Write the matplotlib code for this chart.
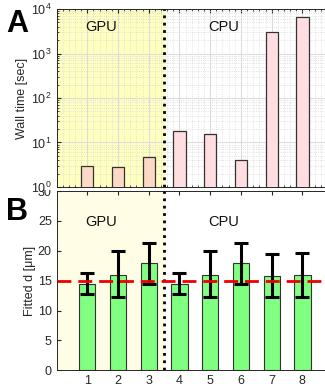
import numpy as np
import matplotlib.pyplot as plt
from matplotlib.ticker import MultipleLocator, LogLocator, NullFormatter
from matplotlib.transforms import Bbox, TransformedBbox

plt.rcParams['font.family'] = ['Liberation Sans', 'DejaVu Sans']

runs = [1, 2, 3, 4, 5, 6, 7, 8]
wall_time = [2.95, 2.75, 4.6, 18.4, 15.5, 4.1, 3100, 6700]
fitted_d = [14.4, 16.0, 17.9, 14.4, 16.0, 17.9, 15.85, 16.0]
err_hi = [16.3, 19.9, 21.3, 16.3, 19.9, 21.3, 19.55, 19.65]
err_lo = [12.8, 12.3, 14.4, 12.8, 12.3, 14.4, 12.3, 12.3]
true_d = 15

txt = '#262626'
fig = plt.figure(figsize=(3.25, 3.92), dpi=100)
axB = fig.add_axes([0.174, 0.0554, 0.851, 0.457])
axA = fig.add_axes([0.174, 0.523, 0.851, 0.454])

# panel A: wall time
axA.axvspan(0, 3.5, color='#ffffc0', zorder=0.5)
colsA = ['#fcd9c4'] * 3 + ['#ffdde0'] * 5
axA.bar(runs, wall_time, width=0.4, color=colsA, edgecolor='#333333', linewidth=0.9, zorder=3)
axA.set_yscale('log')
axA.set_ylim(1, 1e4)
axA.set_xlim(0, 9)
axA.yaxis.set_minor_locator(LogLocator(subs=np.arange(2, 10)))
axA.yaxis.set_minor_formatter(NullFormatter())
axA.xaxis.set_minor_locator(MultipleLocator(0.2))
axA.set_xticks(runs)
axA.set_xticklabels([])
axA.grid(True, which='major', color='#dcdcdc', linewidth=0.8, zorder=1)
axA.grid(True, which='minor', color='#d8d8d8', linestyle=':', linewidth=0.6, zorder=1)
axA.set_axisbelow(True)
axA.set_ylabel('Wall time [sec]', fontsize=9, color=txt, labelpad=2)
axA.text(0.95, 4000, 'GPU', fontsize=10.5, color='#111111', va='center', ha='left', zorder=5)
axA.text(4.95, 4000, 'CPU', fontsize=10.5, color='#111111', va='center', ha='left', zorder=5)
axA.axvline(3.5, color='black', linestyle=':', linewidth=2, zorder=4)

# panel B: fitted thickness
axB.axvspan(0, 3.5, color='#fffde6', zorder=0.5)
yerr = [np.array(fitted_d) - np.array(err_lo), np.array(err_hi) - np.array(fitted_d)]
axB.bar(runs, fitted_d, width=0.53, color='#80ff80', edgecolor='#333333', linewidth=0.8, zorder=2)
axB.errorbar(runs, fitted_d, yerr=yerr, fmt='none', ecolor='black', elinewidth=2.2,
             capsize=5, capthick=2.2, zorder=4)
axB.axhline(true_d, color='#ee0000', linestyle=(0, (5, 2.5)), linewidth=2, zorder=5)
axB.axvline(3.5, color='black', linestyle=':', linewidth=2, zorder=3)
axB.set_ylim(0, 30)
axB.set_xlim(0, 9)
axB.set_yticks([0, 5, 10, 15, 20, 25, 30])
axB.set_xticks(runs)
axB.set_ylabel('Fitted d [\u03bcm]', fontsize=9, color=txt, labelpad=1)
axB.text(0.95, 24.8, 'GPU', fontsize=10.5, color='#111111', va='center', ha='left', zorder=6)
axB.text(4.95, 24.8, 'CPU', fontsize=10.5, color='#111111', va='center', ha='left', zorder=6)

for ax in (axA, axB):
    ax.tick_params(which='both', direction='in', top=True, right=True, labelsize=9,
                   colors=txt, length=3)
    ax.tick_params(which='minor', length=1.5)
    for s in ax.spines.values():
        s.set_color('#262626')
        s.set_linewidth(0.7)

# the top "30" label of B is mostly hidden under panel A, as in the original
fig.canvas.draw()
clip = TransformedBbox(Bbox([[0, 0], [0.17, (392 - 190) / 392]]), fig.transFigure)
for lab in axB.get_yticklabels():
    if lab.get_text() == '30':
        lab.set_clip_box(clip)
        lab.set_clip_on(True)

fig.text(0.02, 0.9375, 'A', fontsize=22, fontweight='bold', va='center', ha='left')
fig.text(0.02, 0.459, 'B', fontsize=22, fontweight='bold', va='center', ha='left')

fig.savefig('out.png', dpi=100)
